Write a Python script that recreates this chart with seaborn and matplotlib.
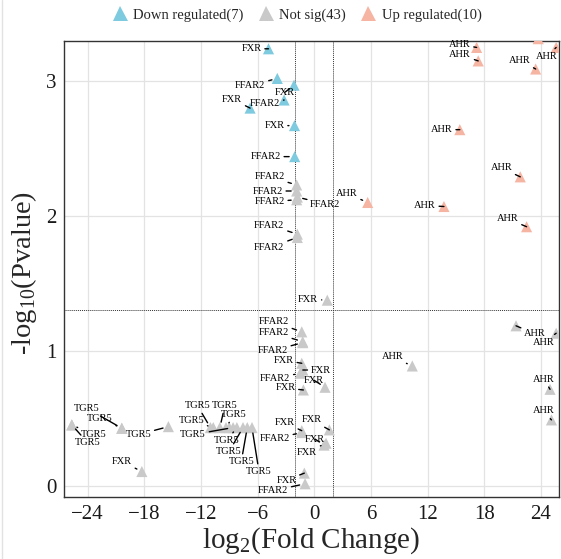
import numpy as np
import pandas as pd
import matplotlib
matplotlib.use("Agg")
import matplotlib.pyplot as plt
from matplotlib.lines import Line2D
import seaborn as sns

# ---- data ---------------------------------------------------------------
genes = [
    # down regulated
    "FXR", "FFAR2", "FXR", "FFAR2", "FXR", "FXR", "FFAR2",
    # not significant
    "FFAR2", "FFAR2", "FFAR2", "FFAR2", "FFAR2", "FFAR2",
    "FXR", "FFAR2", "FFAR2", "FFAR2", "FXR", "FXR", "FFAR2", "FXR", "FXR",
    "AHR", "AHR", "AHR", "AHR", "AHR",
    "FXR", "FFAR2", "FXR", "FXR", "FXR", "FXR", "FFAR2",
    "TGR5", "TGR5", "TGR5", "TGR5", "TGR5", "FXR",
    "TGR5", "TGR5", "TGR5", "TGR5", "TGR5", "TGR5", "TGR5", "TGR5", "TGR5", "TGR5",
    # up regulated
    "AHR", "AHR", "AHR", "AHR", "AHR", "AHR", "AHR", "AHR", "AHR", "AHR",
]
log2fc = [
    -4.85, -3.92, -2.15, -3.20, -6.80, -2.10, -2.08,
    -1.87, -1.87, -1.87, -1.80, -1.80, -1.80,
    1.37, -1.33, -1.23, -1.23, -1.33, -1.22, -1.50, 1.13, -1.16,
    21.35, 25.60, 10.37, 24.95, 25.10,
    -1.33, -1.33, 1.59, 1.03, 1.24, -1.06, -0.98,
    -25.67, -25.67, -20.38, -20.38, -15.45, -18.26,
    -11.00, -10.70, -10.00, -9.35, -8.60, -8.20, -7.55, -7.10, -6.60, -9.00,
    17.18, 17.35, 23.70, 25.60, 23.43, 15.40, 21.80, 5.65, 13.72, 22.47,
]
neglog10p = [
    3.24, 3.02, 2.97, 2.86, 2.80, 2.67, 2.44,
    2.23, 2.185, 2.12, 2.14, 1.865, 1.84,
    1.375, 1.14, 1.067, 1.06, 0.907, 0.857, 0.833, 0.729, 0.709,
    1.185, 1.13, 0.887, 0.714, 0.487,
    0.407, 0.393, 0.413, 0.30, 0.314, 0.092, 0.013,
    0.45, 0.45, 0.425, 0.425, 0.437, 0.104,
    0.43, 0.43, 0.43, 0.43, 0.43, 0.43, 0.43, 0.43, 0.43, 0.43,
    3.25, 3.15, 3.315, 3.25, 3.09, 2.64, 2.29, 2.10, 2.07, 1.92,
]

fc_cut = 2.0
p_cut = -np.log10(0.05)

# label placement (pixel offsets from each point; None = no label)
label_offsets = [
    (-17, 0), (-27, 7), (-9, 7), (-19, 3), (-18, -9), (-20, 0), (-29, 0),
    (-27, -8), (-29, 0), (-27, 2), (28, 7), (-28, -9), (-28, 10),
    (-19, -1), (-28, -10), (-29, -9), (-30, 8), (-18, -3), (18, 0), (-25, 5), (-11, -7), (-18, -2),
    (19, 8), (-12, 9), (-20, -9), (-6, -10), (-8, -9),
    (-17, -8), (-27, 6), (-18, -10), (-9, -6), (-19, 9), (-18, 7), (-32, 7),
    (22, 10), (16, 18), (-22, -10), (-35, -20), (-30, 8), (-20, -10),
    (-13, -22), (-22, -7), (5, -22), (8, -13), (-40, 7), (-10, 13), (-14, 24), (-6, 34), (7, 44), None,
    (-17, -3), (-18, -6), (-19, 8), (-9, 9), (-16, -9), (-18, 0), (-19, -9), (-21, -9), (-19, -1), (-19, -8),
]

df = pd.DataFrame({"gene": genes, "log2FC": log2fc, "nlp": neglog10p})
status = np.where((df.log2FC < -fc_cut) & (df.nlp > p_cut), "Down regulated",
                  np.where((df.log2FC > fc_cut) & (df.nlp > p_cut), "Up regulated", "Not sig"))
counts = pd.Series(status).value_counts()
names = {k: f"{k}({counts.get(k, 0)})" for k in ["Down regulated", "Not sig", "Up regulated"]}
df["group"] = [names[s] for s in status]
hue_order = [names["Down regulated"], names["Not sig"], names["Up regulated"]]
palette = dict(zip(hue_order, ["#7ECADF", "#C9C9C9", "#F6B4A3"]))

# ---- style --------------------------------------------------------------
sns.set_theme(style="whitegrid")
plt.rcParams["font.family"] = ["Liberation Serif", "DejaVu Serif"]
plt.rcParams["mathtext.fontset"] = "custom"
plt.rcParams["mathtext.rm"] = "Liberation Serif"
plt.rcParams["axes.unicode_minus"] = True

fig = plt.figure(figsize=(5.61, 5.59), dpi=100)
ax = fig.add_axes([64 / 561, 1 - 497 / 559, (559 - 64) / 561, (497 - 40.7) / 559])

sns.scatterplot(data=df, x="log2FC", y="nlp", hue="group", hue_order=hue_order,
                palette=palette, marker="^", s=64, linewidth=0, ax=ax, zorder=3)

ax.set_xlim(-26.5, 25.9)
ax.set_ylim(-0.085, 3.30)
ax.set_xticks(np.arange(-24, 25, 6))
ax.set_yticks([0, 1, 2, 3])
ax.grid(True, color="#E3E3E3", linewidth=0.9)
ax.set_axisbelow(True)
for sp in ax.spines.values():
    sp.set_color("#333333")
    sp.set_linewidth(1.0)
ax.tick_params(axis="both", length=3.5, width=0.8, color="#333333",
               labelsize=15, labelcolor="#1a1a1a", pad=2)

# significance thresholds
ax.axvline(-fc_cut, color="#333333", lw=0.7, ls=(0, (1, 1)), zorder=2)
ax.axvline(fc_cut, color="#333333", lw=0.7, ls=(0, (1, 1)), zorder=2)
ax.axhline(p_cut, color="#333333", lw=0.7, ls=(0, (1, 1)), zorder=2)

ax.set_xlabel(r"log$_\mathregular{2}$(Fold Change)", fontsize=21, labelpad=1)
ax.set_ylabel(r"-log$_\mathregular{10}$(Pvalue)", fontsize=20.5)
ax.yaxis.set_label_coords(-0.05, 0.49)

# gene labels with leader segments
for (g, x, y, off) in zip(genes, log2fc, neglog10p, label_offsets):
    if off is None:
        continue
    dx, dy = off
    ax.annotate(g, xy=(x, y), xytext=(dx, -dy), textcoords="offset pixels",
                ha="center", va="center", fontsize=7.5, color="black", zorder=4,
                arrowprops=dict(arrowstyle="-", color="black", lw=1.0,
                                shrinkA=0, shrinkB=4))

sns.move_legend(ax, "center", bbox_to_anchor=(297 / 561, 1 - 15 / 559),
                bbox_transform=fig.transFigure, ncol=3, frameon=False, title=None,
                fontsize=10.5, handlelength=1.0, handletextpad=0.4,
                columnspacing=1.05, markerscale=1.35)

# faint frame line along the left edge of the figure
fig.add_artist(Line2D([1.5 / 561, 1.5 / 561], [0, 1], transform=fig.transFigure,
                      color="#E2E2E2", lw=1.0))

fig.savefig("out.png", dpi=100)
